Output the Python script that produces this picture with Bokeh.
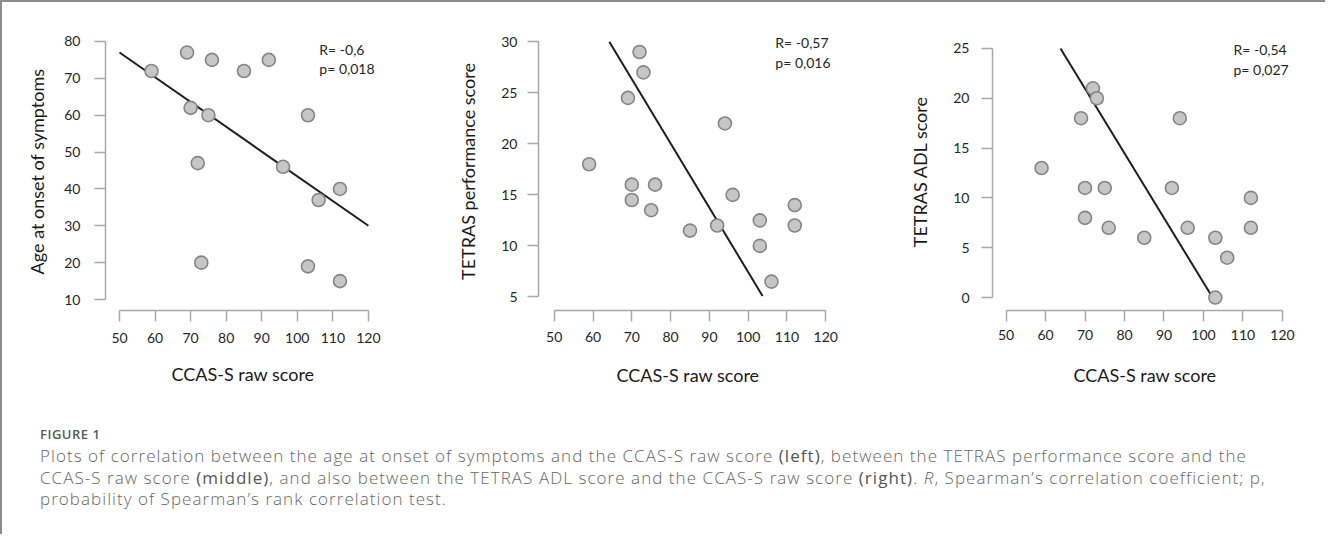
from bokeh.plotting import figure
from bokeh.models import Range1d, FixedTicker, Label, Div
from bokeh.layouts import row, column
from bokeh.embed import file_html
from bokeh.resources import INLINE

# ---------------- data ----------------
x_ticks = [50, 60, 70, 80, 90, 100, 110, 120]
x_title = "CCAS-S raw score"

# Panel 1: age at onset of symptoms
ccas_1 = [59, 69, 76, 85, 92, 70, 75, 103, 72, 96, 112, 106, 73, 103, 112]
age_onset = [72, 77, 75, 72, 75, 62, 60, 60, 47, 46, 40, 37, 20, 19, 15]
fit1_x = [50, 120]
fit1_y = [77, 30]
y1_ticks = [10, 20, 30, 40, 50, 60, 70, 80]
stat1 = ["R= -0,6", "p= 0,018"]

# Panel 2: TETRAS performance score
ccas_2 = [59, 72, 73, 69, 70, 70, 76, 75, 85, 94, 96, 92, 103, 103, 106, 112, 112]
tetras_perf = [18, 29, 27, 24.5, 16, 14.5, 16, 13.5, 11.5, 22, 15, 12, 12.5, 10, 6.5, 14, 12]
fit2_x = [64.2, 103.7]
fit2_y = [30, 5.1]
y2_ticks = [5, 10, 15, 20, 25, 30]
stat2 = ["R= -0,57", "p= 0,016"]

# Panel 3: TETRAS ADL score
ccas_3 = [59, 72, 73, 69, 70, 75, 70, 76, 85, 94, 92, 96, 103, 106, 103, 112, 112]
tetras_adl = [13, 21, 20, 18, 11, 11, 8, 7, 6, 18, 11, 7, 6, 4, 0, 10, 7]
fit3_x = [63.8, 102.3]
fit3_y = [25, 0]
y3_ticks = [0, 5, 10, 15, 20, 25]
stat3 = ["R= -0,54", "p= 0,027"]

FONT = "Lato"
AXIS_COL = "#a8a8a8"


def panel(xs, ys, fx, fy, yticks, ytitle, stats, width, height,
          xr, yr, borders, stat_pos, ylab_sd, ytitle_sd, xlab_sd, xtitle_sd):
    p = figure(width=width, height=height, output_backend="svg",
               toolbar_location=None, x_range=Range1d(*xr), y_range=Range1d(*yr),
               min_border_left=borders[0], min_border_right=borders[1],
               min_border_top=borders[2], min_border_bottom=borders[3])
    p.outline_line_color = None
    p.grid.visible = False
    p.background_fill_color = "white"
    p.border_fill_color = "white"

    p.line(fx, fy, line_color="#1e1e1e", line_width=2)
    p.scatter(xs, ys, size=13, fill_color="#c6c6c6", line_color="#858585",
              line_width=1.6)

    xa = p.xaxis[0]
    xa.ticker = FixedTicker(ticks=x_ticks)
    xa.bounds = (x_ticks[0], x_ticks[-1])
    ya = p.yaxis[0]
    ya.ticker = FixedTicker(ticks=yticks)
    ya.bounds = (yticks[0], yticks[-1])
    for ax in (xa, ya):
        ax.axis_line_color = AXIS_COL
        ax.axis_line_width = 1.5
        ax.major_tick_line_color = AXIS_COL
        ax.major_tick_line_width = 1.5
        ax.major_tick_in = 0
        ax.major_tick_out = 11
        ax.minor_tick_line_color = None
        ax.major_label_text_font = FONT
        ax.major_label_text_font_size = "14px"
        ax.major_label_text_color = "#262626"
        ax.axis_label_text_font = FONT
        ax.axis_label_text_font_size = "18px"
        ax.axis_label_text_font_style = "normal"
        ax.axis_label_text_color = "#1a1a1a"
    xa.axis_label = x_title
    ya.axis_label = ytitle
    ya.major_label_standoff = ylab_sd
    ya.axis_label_standoff = ytitle_sd
    xa.major_label_standoff = xlab_sd
    xa.axis_label_standoff = xtitle_sd

    sx, sy1, sy2 = stat_pos
    for txt, yy in zip(stats, (sy1, sy2)):
        p.add_layout(Label(x=sx, y=yy, text=txt, text_font=FONT,
                           text_font_size="14px", text_color="#262626",
                           text_baseline="middle", text_align="left"))
    return p


f1 = panel(ccas_1, age_onset, fit1_x, fit1_y, y1_ticks, "Age at onset of symptoms",
           stat1, 420, 400, (46.06, 123.4), (7.02, 82.44), (103, 42, 30, 92),
           (106.2, 77.8, 72.7), 14, 13, 11, 17)
f2 = panel(ccas_2, tetras_perf, fit2_x, fit2_y, y2_ticks, "TETRAS performance score",
           stat2, 430, 400, (45.95, 123.02), (3.67, 30.91), (116, 15, 30, 90),
           (107.0, 29.93, 27.98), 10, 19, 10, 19)
f3 = panel(ccas_3, tetras_adl, fit3_x, fit3_y, y3_ticks, "TETRAS ADL score",
           stat3, 463, 400, (46.58, 123.8), (-1.30, 26.6), (140, 18, 30, 77),
           (107.6, 24.88, 22.88), 12, 19, 8, 21)

caption_html = (
    "<div style=\"font-family:'Open Sans',sans-serif;color:#666666;padding-left:33px;padding-top:19px;\">"
    "<div style=\"font-size:13px;font-weight:600;letter-spacing:0.5px;line-height:16px;color:#595959;\">FIGURE 1</div>"
    "<div style=\"font-size:17px;font-weight:300;letter-spacing:1.05px;line-height:21.5px;margin-top:3px;white-space:nowrap;\">"
    "Plots of correlation between the age at onset of symptoms and the CCAS-S raw score <b style=\"color:#555\">(left)</b>, "
    "between the TETRAS performance score and the<br>"
    "CCAS-S raw score <b style=\"color:#555\">(middle)</b>, and also between the TETRAS ADL score and the CCAS-S raw score "
    "<b style=\"color:#555\">(right)</b>. <i>R</i>, Spearman\u2019s correlation coefficient; p,<br>"
    "probability of Spearman\u2019s rank correlation test.</div></div>"
)
cap = Div(text=caption_html, width=1313, height=122)

layout = column(row(f1, f2, f3), cap,
                styles={"border-top": "2px solid #8c8c8c",
                        "border-left": "2px solid #8c8c8c"})

open("out.html", "w").write(file_html(layout, INLINE))
